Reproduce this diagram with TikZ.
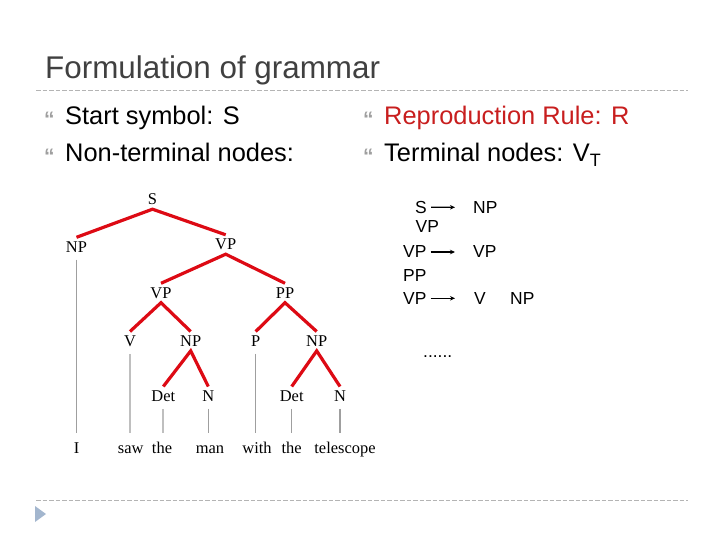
\documentclass[tikz,border=0pt]{standalone}
\usepackage{fontspec}
\setmainfont{Liberation Sans}
\newfontfamily\treefont{Liberation Serif}
\usetikzlibrary{arrows.meta}
\definecolor{titlegray}{HTML}{404040}
\definecolor{rulered}{HTML}{C81E1E}
\definecolor{treered}{HTML}{DD0A14}
\definecolor{sepgray}{HTML}{B4B4B4}
\definecolor{markblue}{HTML}{A3B6CE}
\tikzset{
  lab/.style={font=\treefont\fontsize{16.5}{18}\selectfont, inner sep=4bp, text height=11bp, text depth=0bp, anchor=base},
  branch/.style={treered, line width=3.2bp},
  stem/.style={gray!50, line width=2.2bp, shorten <=3bp, shorten >=5bp},
  thinstem/.style={gray!75, line width=1.2bp, shorten <=3bp, shorten >=5bp},
  bigtext/.style={anchor=base west, inner sep=0pt, font=\fontsize{25.5}{30}\selectfont},
  bulletmark/.style={anchor=base west, inner sep=0pt, text=gray!75, font=\bfseries\fontsize{21}{24}\selectfont},
  ruletext/.style={anchor=base west, inner sep=0pt, font=\fontsize{17.5}{21}\selectfont},
  ruleto/.style={-{Stealth[length=5bp,width=4.5bp]}, line width=1.2bp, shorten <=4bp, shorten >=18bp},
  sepline/.style={sepgray, line width=0.8bp, dash pattern=on 4.5bp off 2bp}
}
\begin{document}
\begin{tikzpicture}[x=1bp,y=-1bp]
  \useasboundingbox (0,0) rectangle (720,540);
  % title and separators
  \node[anchor=base west, inner sep=0pt, font=\fontsize{31.5}{36}\selectfont, text=titlegray] (title) at (45,79) {Formulation of grammar};
  \draw[sepline] (36,90.5) -- (688,90.5);
  \draw[sepline] (36,500.5) -- (688,500.5);
  \fill[markblue] (35,506) -- (46,514) -- (35,522) -- cycle;
  % bullet points
  \node[bulletmark] (m1) at (44,127) {“};
  \node[bulletmark] (m2) at (44,164) {“};
  \node[bulletmark] (m3) at (363,127) {“};
  \node[bulletmark] (m4) at (363,164) {“};
  \node[bigtext] (start) at (65,125) {Start symbol: S};
  \node[bigtext] (nonterm) at (65,162) {Non-terminal nodes:};
  \node[bigtext, text=rulered] (repro) at (384,125) {Reproduction Rule: R};
  \node[bigtext] (term) at (384,162) {Terminal nodes: V\raisebox{-5bp}{\fontsize{18}{18}\selectfont T}};
  % rules
  \node[ruletext] (r1l) at (415,213.3) {S};
  \node[ruletext] (r1r) at (473,213.3) {NP};
  \node[ruletext] (r2) at (415.5,232.5) {VP};
  \node[ruletext] (r3l) at (403,258) {VP};
  \node[ruletext] (r3r) at (473,258) {VP};
  \node[ruletext] (r4) at (403,281.7) {PP};
  \node[ruletext] (r5l) at (403,304.3) {VP};
  \node[ruletext] (r5m) at (474,304.3) {V};
  \node[ruletext] (r5r) at (510,304.3) {NP};
  \node[ruletext] (dots) at (423,357) {......};
  \draw[ruleto] (r1l.east) -- (r1r.west);
  \draw[ruleto] (r3l.east) -- (r3r.west);
  \draw[ruleto] (r5l.east) -- (r5l.east -| r3r.west);
  % parse tree labels
  \node[lab] (S) at (152.5,205) {S};
  \node[lab] (NPa) at (76.5,252.5) {NP};
  \node[lab] (VPa) at (225.7,250) {VP};
  \node[lab] (VPb) at (161,298.5) {VP};
  \node[lab] (PP) at (285,298.5) {PP};
  \node[lab] (V) at (130,346.7) {V};
  \node[lab] (NPb) at (190.7,346.7) {NP};
  \node[lab] (P) at (255.7,346.7) {P};
  \node[lab] (NPc) at (316.7,346.7) {NP};
  \node[lab] (Deta) at (163.3,401.7) {Det};
  \node[lab] (Na) at (208.3,401.7) {N};
  \node[lab] (Detb) at (291.7,401.7) {Det};
  \node[lab] (Nb) at (340,401.7) {N};
  % words
  \node[lab] (wI) at (76.7,453) {I};
  \node[lab] (wsaw) at (130.7,453) {saw};
  \node[lab] (wthea) at (162,453) {the};
  \node[lab] (wman) at (210,453) {man};
  \node[lab] (wwith) at (257,453) {with};
  \node[lab] (wtheb) at (291.7,453) {the};
  \node[lab] (wtel) at (345,453) {telescope};
  % red branches
  \draw[branch] (NPa.north) -- (S.south) -- (VPa.north);
  \draw[branch] (VPb.north) -- (VPa.south) -- (PP.north);
  \draw[branch] (V.north) -- (VPb.south) -- (NPb.north);
  \draw[branch] (P.north) -- (PP.south) -- (NPc.north);
  \draw[branch] (Deta.north) -- (NPb.south) -- (Na.north);
  \draw[branch] (Detb.north) -- (NPc.south) -- (Nb.north);
  % gray stems to the words
  \draw[thinstem] (NPa.south) -- (NPa.south |- wI.north);
  \draw[stem] (V.south) -- (V.south |- wsaw.north);
  \draw[stem] (Deta.south) -- (Deta.south |- wthea.north);
  \draw[thinstem] (Na.south) -- (Na.south |- wman.north);
  \draw[thinstem] (P.south) -- (P.south |- wwith.north);
  \draw[thinstem] (Detb.south) -- (Detb.south |- wtheb.north);
  \draw[thinstem] (Nb.south) -- (Nb.south |- wtel.north);
\end{tikzpicture}
\end{document}
